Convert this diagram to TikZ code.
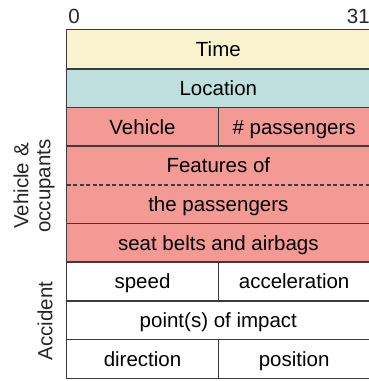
\documentclass[tikz,border=0pt]{standalone}
\usepackage{fontspec}
\setmainfont{Liberation Sans}
\definecolor{cyel}{HTML}{F8F3CE}
\definecolor{ccyan}{HTML}{BDDFDE}
\definecolor{cpink}{HTML}{F39A94}
\definecolor{cline}{HTML}{3C3C3C}
\begin{document}
\begin{tikzpicture}[x=1pt,y=-1pt,
  cell/.style={fill=#1, draw=none, minimum height=38.7pt, inner sep=0pt,
    text height=14.8pt, text depth=0pt, font=\fontsize{20.5}{22}\selectfont},
  full/.style={cell=#1, minimum width=303.3pt},
  half/.style={cell=#1, minimum width=151.65pt},
  border/.style={draw=cline, line width=1.2pt},
  lbl/.style={font=\fontsize{20.5}{22}\selectfont, inner sep=0pt, text=black!85}]
\useasboundingbox (0,0) rectangle (369,381);
% cells
\node[full=cyel]  (time)   at (218.35,49.35)  {Time};
\node[full=ccyan] (loc)    at (218.35,88.05)  {Location};
\node[half=cpink] (veh)    at (142.5,126.75)  {Vehicle};
\node[half=cpink] (npass)  at (294.15,126.75) {\# passengers};
\node[full=cpink] (feat)   at (218.35,165.45) {Features of};
\node[full=cpink] (pass)   at (218.35,204.15) {the passengers};
\node[full=cpink] (seat)   at (218.35,242.85) {seat belts and airbags};
\node[half=white] (speed)  at (142.5,281.55)  {speed};
\node[half=white] (acc)    at (294.15,281.55) {acceleration};
\node[full=white] (impact) at (218.35,320.25) {point(s) of impact};
\node[half=white] (dir)    at (142.5,358.95)  {direction};
\node[half=white] (pos)    at (294.15,358.95) {position};
% borders
\foreach \n in {time,loc,veh,npass,seat,speed,acc,impact,dir,pos}
  \draw[border] (\n.north west) rectangle (\n.south east);
\draw[border] (feat.north west) rectangle (pass.south east);
\draw[border, line width=1.2pt, dash pattern=on 4pt off 2.5pt] (feat.south west) -- (feat.south east);
% bit labels
\node[lbl, anchor=base] (b0) at (74,23.3) {0};
\node[lbl, anchor=base east] (b31) at (370,23.3) {31};
% side labels
\node[lbl, rotate=90, align=center] (vo) at (34,186) {Vehicle \&\\occupants};
\node[lbl, rotate=90] (accid) at (45,321) {Accident};
\end{tikzpicture}
\end{document}
